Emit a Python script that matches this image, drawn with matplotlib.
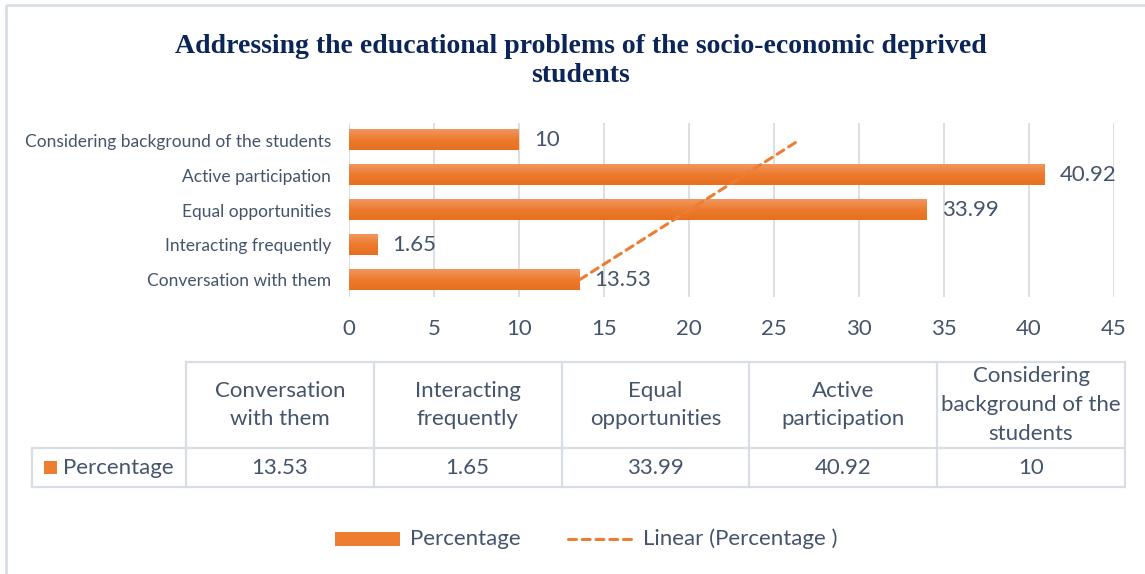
import numpy as np
import matplotlib
matplotlib.use("Agg")
import matplotlib.pyplot as plt
from matplotlib.colors import LinearSegmentedColormap
from matplotlib.patches import Rectangle
from matplotlib.lines import Line2D
from matplotlib.transforms import ScaledTranslation

# ---- data ----
categories = ["Conversation with them", "Interacting frequently", "Equal opportunities",
              "Active participation", "Considering background of the students"]
table_headers = ["Conversation\nwith them", "Interacting\nfrequently", "Equal\nopportunities",
                 "Active\nparticipation", "Considering\nbackground of the\nstudents"]
percentage = [13.53, 1.65, 33.99, 40.92, 10]
x_ticks = [0, 5, 10, 15, 20, 25, 30, 35, 40, 45]
series_name = "Percentage"
title = "Addressing the educational problems of the socio-economic deprived\nstudents"

# ---- style ----
W, H = 1145, 574
TXT = "#44546A"
ORANGE = "#ED7D31"
GRID = "#D9D9D9"
BORDER = "#D9DEE6"
FS = 16
plt.rcParams["font.family"] = ["Lato", "DejaVu Sans"]

fig = plt.figure(figsize=(W / 100, H / 100), dpi=100)
fig.patch.set_facecolor("white")

# overlay in pixel coordinates for frame, title, data table and legend
ov = fig.add_axes([0, 0, 1, 1], zorder=0)
ov.set_xlim(0, W)
ov.set_ylim(H, 0)
ov.axis("off")

# main bar axes
left, right, top, bottom = 349, 1114, 123, 297
ax = fig.add_axes([left / W, 1 - bottom / H, (right - left) / W, (bottom - top) / H], zorder=2)
ax.patch.set_alpha(0)

n = len(categories)
ypos = np.arange(n)
bar_h = 0.58
grad = LinearSegmentedColormap.from_list("bar", ["#E8701F", "#EC7B2E", "#F29660"])
g = np.linspace(0, 1, 64).reshape(-1, 1)
label_shift = ScaledTranslation(15 / 100, 0, fig.dpi_scale_trans)
for y, v in zip(ypos, percentage):
    ax.imshow(g, cmap=grad, extent=[0, v, y - bar_h / 2, y + bar_h / 2],
              aspect="auto", origin="lower", zorder=3, interpolation="bilinear")
    ax.text(v, y, f"{v:g}", ha="left", va="center", fontsize=FS, color=TXT,
            transform=ax.transData + label_shift, zorder=5)

# linear trendline over category positions
slope, intercept = np.polyfit(ypos + 1, percentage, 1)
trend = slope * (ypos + 1) + intercept
ax.plot(trend, ypos, color=ORANGE, lw=2.2, linestyle=(0, (2.6, 1.9)),
        dash_capstyle="round", zorder=4)

ax.set_xlim(x_ticks[0], x_ticks[-1])
ax.set_ylim(-0.5, n - 0.5)
ax.set_xticks(x_ticks)
ax.set_yticks(ypos)
ax.set_yticklabels(categories)
ax.tick_params(axis="x", length=0, pad=15.5, labelsize=FS, labelcolor=TXT)
ax.tick_params(axis="y", length=0, pad=13, labelsize=12.5, labelcolor=TXT)
for s in ax.spines.values():
    s.set_visible(False)
ax.grid(axis="x", color=GRID, lw=1.2, zorder=0)
ax.set_axisbelow(True)

# outer frame
ov.add_patch(Rectangle((6, 5), W + 20, H + 20, fill=False, ec=BORDER, lw=2))

# title
ov.text(581, 61, title, ha="center", va="center", fontsize=20, fontweight="bold",
        family="Liberation Serif", color="#0B2559", linespacing=1.22)

# data table
col_x = np.linspace(186, 1125, n + 1)
y_top, y_mid, y_bot = 362, 448, 487
tkw = dict(color=BORDER, lw=1.6, zorder=1)
ov.plot([col_x[0], col_x[-1]], [y_top, y_top], **tkw)
ov.plot([32, col_x[-1]], [y_mid, y_mid], **tkw)
ov.plot([32, col_x[-1]], [y_bot, y_bot], **tkw)
ov.plot([32, 32], [y_mid, y_bot], **tkw)
for xc in col_x:
    ov.plot([xc, xc], [y_top, y_bot], **tkw)
for i in range(n):
    cx = (col_x[i] + col_x[i + 1]) / 2
    ov.text(cx, (y_top + y_mid) / 2, table_headers[i], ha="center", va="center",
            fontsize=FS, color=TXT, linespacing=1.55)
    ov.text(cx, (y_mid + y_bot) / 2 + 1, f"{percentage[i]:g}", ha="center", va="center",
            fontsize=FS, color=TXT)
ov.add_patch(Rectangle((44, 461), 13, 13, color=ORANGE, lw=0))
ov.text(63, (y_mid + y_bot) / 2 + 1, series_name, ha="left", va="center", fontsize=FS, color=TXT)

# legend
ov.add_patch(Rectangle((335, 532), 65, 14, color=ORANGE, lw=0))
ov.text(410, 539, series_name, ha="left", va="center", fontsize=FS, color=TXT)
ov.add_line(Line2D([568, 636], [539, 539], color=ORANGE, lw=2.2,
                   linestyle=(0, (2.6, 1.9)), dash_capstyle="round"))
ov.text(643, 539, f"Linear ({series_name} )", ha="left", va="center", fontsize=FS, color=TXT)

fig.savefig("out.png", dpi=100)
